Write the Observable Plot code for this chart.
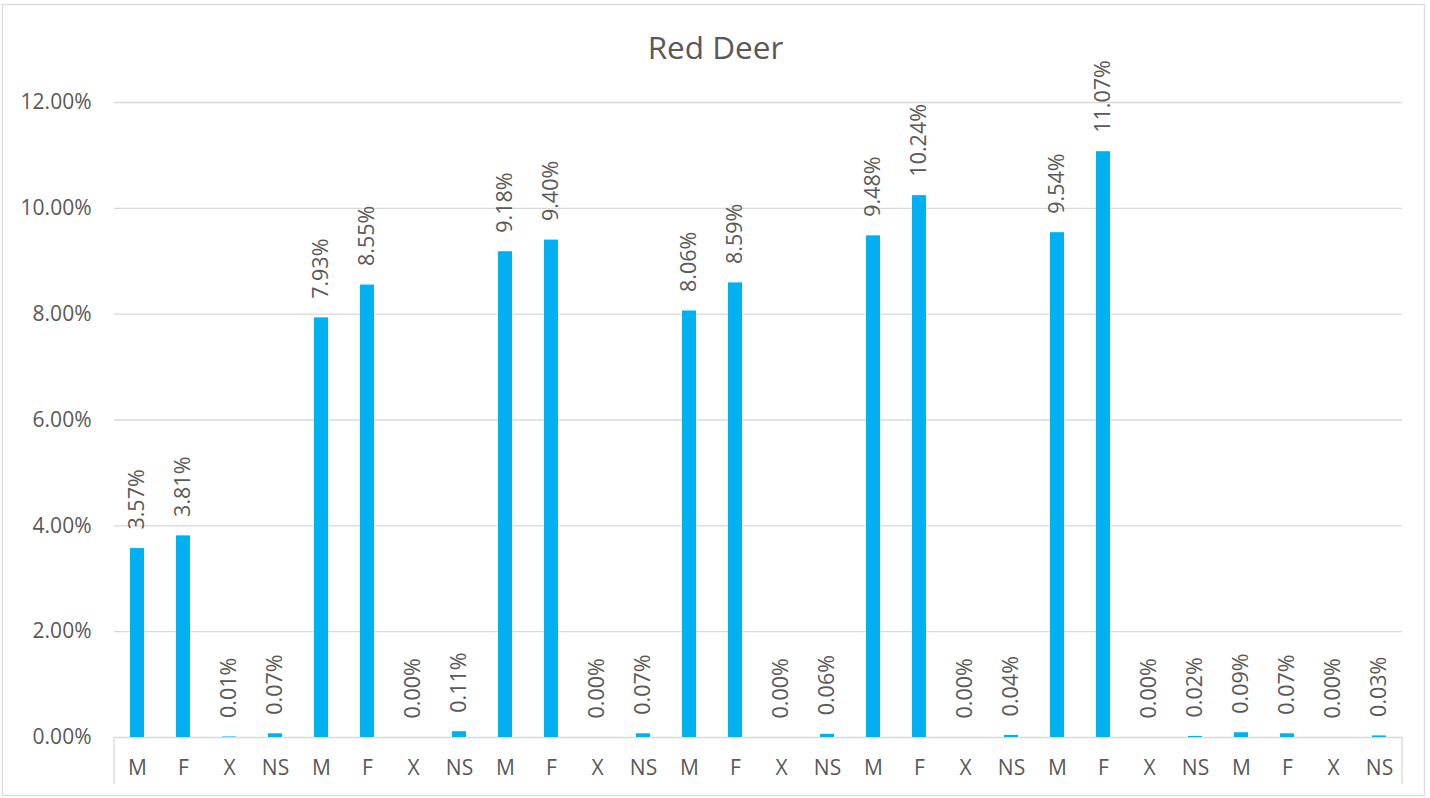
<!DOCTYPE html>
<html><head><meta charset="utf-8">
<script src="https://cdn.jsdelivr.net/npm/d3@7"></script>
<script src="https://cdn.jsdelivr.net/npm/@observablehq/plot@0.6"></script>
<style>body{margin:0;background:#fff;overflow:hidden;} #chart{width:1430px;height:798px;}</style>
</head><body><div id="chart"></div>
<script>
const title = "Red Deer";
const categories = ["M","F","X","NS","M","F","X","NS","M","F","X","NS","M","F","X","NS","M","F","X","NS","M","F","X","NS","M","F","X","NS"];
const values = [3.57,3.81,0.01,0.07, 7.93,8.55,0.00,0.11, 9.18,9.40,0.00,0.07, 8.06,8.59,0.00,0.06, 9.48,10.24,0.00,0.04, 9.54,11.07,0.00,0.02, 0.09,0.07,0.00,0.03];
const yTicks = [0,2,4,6,8,10,12];

const data = values.map((v,i)=>({idx:i, cat:categories[i], value:v/100}));
const pct = d3.format(".2%");
const textColor = "#595959";
const gridColor = "#d9d9d9";

const chart = Plot.plot({
  width: 1430, height: 798,
  marginTop: 102, marginBottom: 61, marginLeft: 114, marginRight: 28,
  style: {fontFamily: "'Open Sans', sans-serif", fontSize: "21px", color: textColor, background: "#fff"},
  x: {type: "band", domain: data.map(d=>d.idx), paddingInner: 0.696, paddingOuter: 0.348},
  y: {domain: [0, 0.12]},
  marks: [
    Plot.ruleY(yTicks.map(d=>d/100), {stroke: gridColor, strokeWidth: 1.3}),
    Plot.barY(data, {x: "idx", y: "value", fill: "#00b0f0"}),
    Plot.text(data, {x: "idx", y: "value", text: d=>pct(d.value), rotate: -90, textAnchor: "start", lineAnchor: "middle", dy: -19, fill: textColor, fontSize: 21.5}),
    Plot.axisY({ticks: yTicks.map(d=>d/100), tickFormat: pct, tickSize: 0, tickPadding: 23, fontSize: 21, label: null}),
    Plot.axisX({tickSize: 0, tickPadding: 23, tickFormat: i=>categories[i], fontSize: 21, label: null}),
    Plot.text([title], {frameAnchor: "top", dx: -43, dy: -54, lineAnchor: "middle", fontSize: 31.5, fill: textColor})
  ]
});
document.getElementById("chart").appendChild(chart);

const svg = d3.select(chart);
const xr = chart.scale("x").range;
const y0 = chart.scale("y").apply(0);
[xr[0], xr[1]].forEach(x => {
  svg.append("line").attr("x1", x).attr("x2", x).attr("y1", y0).attr("y2", y0 + 47)
    .attr("stroke", gridColor).attr("stroke-width", 1.3);
});
svg.append("rect").attr("x", 2.5).attr("y", 4.5).attr("width", 1422).attr("height", 791)
  .attr("fill", "none").attr("stroke", gridColor).attr("stroke-width", 1.3);
</script>
</body></html>
